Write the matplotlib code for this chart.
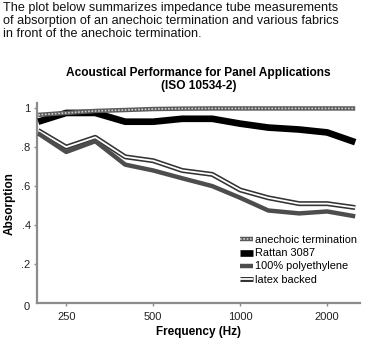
import matplotlib
matplotlib.use("Agg")
import matplotlib.pyplot as plt
from matplotlib.lines import Line2D

plt.rcParams['font.family'] = ['Liberation Sans', 'DejaVu Sans']

freqs = [200, 250, 315, 400, 500, 630, 800, 1000, 1250, 1600, 2000, 2500]
anechoic = [0.965, 0.975, 0.985, 0.99, 0.995, 0.997, 0.998, 0.998, 0.998, 0.998, 0.998, 0.998]
rattan = [0.93, 0.975, 0.975, 0.93, 0.93, 0.945, 0.945, 0.92, 0.90, 0.89, 0.875, 0.825]
polyethylene = [0.87, 0.775, 0.83, 0.71, 0.68, 0.64, 0.60, 0.54, 0.475, 0.46, 0.47, 0.445]
latex = [0.885, 0.80, 0.85, 0.75, 0.73, 0.68, 0.66, 0.58, 0.54, 0.51, 0.51, 0.49]

xticks = [250, 500, 1000, 2000]
yticks = [0.2, 0.4, 0.6, 0.8, 1.0]
ytick_labels = ['.2', '.4', '.6', '.8', '1']

intro = ("The plot below summarizes impedance tube measurements\n"
         "of absorption of an anechoic termination and various fabrics\n"
         "in front of the anechoic termination.")

fig = plt.figure(figsize=(3.66, 3.41), dpi=100)
fig.text(0.008, 0.993, intro, ha='left', va='top', fontsize=9.1,
         color='#111111', linespacing=1.08)

ax = fig.add_axes([0.101, 0.111, 0.883, 0.587])

# latex backed: dark outline with white core
ax.plot(freqs, latex, color='#333333', lw=3.6, solid_capstyle='butt', zorder=2)
ax.plot(freqs, latex, color='white', lw=1.3, solid_capstyle='butt', zorder=2.1)
# polyethylene
ax.plot(freqs, polyethylene, color='#4d4d4d', lw=3.2, solid_capstyle='butt', zorder=3)
# rattan
ax.plot(freqs, rattan, color='black', lw=4.8, solid_capstyle='butt', zorder=4)
# anechoic: hatched gray
ax.plot(freqs, anechoic, color='#5a5a5a', lw=3.2, solid_capstyle='butt', zorder=5)
ax.plot(freqs, anechoic, color='#d0d0d0', lw=1.2, dashes=(1, 1), zorder=5.1)

ax.set_xscale('log')
ax.set_xlim(198, 2600)
ax.set_ylim(0, 1.026)
ax.set_xticks(xticks)
ax.set_xticklabels([str(t) for t in xticks])
ax.xaxis.set_minor_locator(matplotlib.ticker.NullLocator())
ax.set_yticks(yticks)
ax.set_yticklabels(ytick_labels)
ax.text(-0.022, -0.02, '0', transform=ax.transAxes, ha='right', va='center',
        fontsize=8, color='#222222')

for side in ['top', 'right']:
    ax.spines[side].set_visible(False)
for side in ['left', 'bottom']:
    ax.spines[side].set_color('#8c8c8c')
    ax.spines[side].set_linewidth(1.6)
ax.tick_params(axis='both', length=2.5, width=1, color='#8c8c8c',
               labelsize=8, labelcolor='#222222', pad=2)
ax.tick_params(axis='x', pad=4)

ax.set_title('Acoustical Performance for Panel Applications\n(ISO 10534-2)',
             fontsize=8.6, fontweight='bold', pad=10, linespacing=1.1)
ax.set_xlabel('Frequency (Hz)', fontsize=8.5, fontweight='bold', labelpad=3)
ax.set_ylabel('Absorption', fontsize=8.5, fontweight='bold', labelpad=4)

h_an = (Line2D([], [], color='#5a5a5a', lw=3.2, solid_capstyle='butt'),
        Line2D([], [], color='#d0d0d0', lw=1.2, dashes=(1, 1), dash_capstyle='butt'))
h_ra = Line2D([], [], color='black', lw=4.8, solid_capstyle='butt')
h_po = Line2D([], [], color='#4d4d4d', lw=3.2, solid_capstyle='butt')
h_la = (Line2D([], [], color='#333333', lw=3.6, solid_capstyle='butt'),
        Line2D([], [], color='white', lw=1.3, solid_capstyle='butt'))
ax.legend([h_an, h_ra, h_po, h_la],
          ['anechoic termination', 'Rattan 3087', '100% polyethylene', 'latex backed'],
          loc='lower right', bbox_to_anchor=(1.01, 0.06), frameon=False,
          fontsize=7.9, handlelength=1.2, handletextpad=0.15, labelspacing=0.28,
          borderpad=0.1)

fig.savefig('out.png', dpi=100)
